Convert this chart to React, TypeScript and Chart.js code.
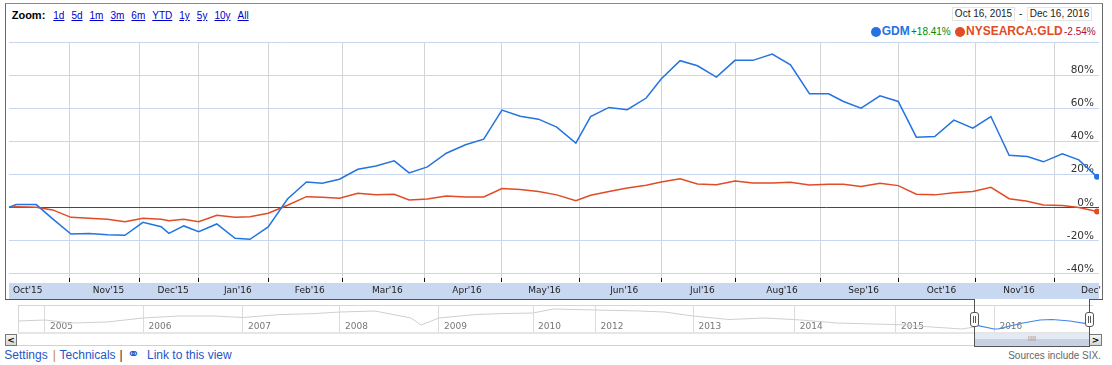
import React, { useEffect, useRef } from 'react';
import { Chart, registerables } from 'chart.js';

Chart.register(...registerables);

// ---------- main chart data (x in weeks since Oct 16, 2015; y in % change) ----------
const weekPos = [0, 0.41, 1.55, 2.49, 3.53, 4.57, 5.61, 6.61, 7.63, 8.67, 9.11, 9.96, 10.81, 11.84, 12.88, 13.73, 14.77, 15.87, 16.95, 17.85, 18.83, 19.88, 20.91, 21.95, 22.8, 23.84, 24.92, 26.01, 27.05, 28.09, 29.13, 30.17, 31.21, 32.3, 33.14, 34.19, 35.23, 36.31, 37.16, 38.24, 39.23, 40.31, 41.37, 42.39, 43.49, 44.53, 45.61, 46.7, 47.55, 48.55, 49.63, 50.67, 51.7, 52.75, 53.84, 54.92, 55.95, 56.99, 58.03, 58.94, 60.02, 60.96, 62.0];
const gdmPct = [0, 1.6, 1.6, -7, -16.2, -15.8, -16.6, -17.0, -9.1, -11.8, -15.8, -11.3, -14.8, -10.1, -18.8, -19.4, -11.9, 5.0, 15.3, 14.5, 17.0, 23.0, 25.0, 28.1, 20.8, 24.4, 32.7, 37.8, 41.2, 58.8, 55.1, 53.3, 48.5, 38.8, 54.9, 60.4, 59.0, 66.1, 77.6, 88.7, 85.6, 78.8, 88.9, 88.9, 92.7, 86.2, 68.7, 68.7, 64.0, 60.0, 67.4, 64.0, 42.4, 42.8, 52.7, 47.9, 54.9, 31.5, 30.7, 27.5, 32.3, 28.7, 18.41];
const gldPct = [0, 0.3, 0, -1.6, -6.1, -6.7, -7.3, -8.7, -6.7, -7.3, -8.1, -7.3, -8.7, -4.8, -6.1, -5.7, -3.6, 1.2, 6.4, 6.1, 5.5, 8.5, 7.5, 7.9, 4.4, 5.0, 6.8, 6.2, 6.2, 11.3, 10.7, 9.5, 7.5, 4.0, 7.3, 9.5, 11.7, 13.3, 15.3, 17.3, 14.1, 13.7, 15.9, 14.7, 14.7, 15.1, 13.5, 13.9, 13.9, 12.5, 14.5, 13.1, 7.9, 7.5, 8.8, 9.5, 12.1, 5.2, 3.6, 1.4, 1.0, -0.2, -2.54];

// month boundaries (same week units) and month tick labels
const monthStarts = [3.44, 7.44, 10.81, 14.81, 19.01, 23.65, 28.09, 32.49, 37.16, 41.41, 46.23, 50.71, 55.1, 59.55];
const monthLabels = ["Oct'15", "Nov'15", "Dec'15", "Jan'16", "Feb'16", "Mar'16", "Apr'16", "May'16", "Jun'16", "Jul'16", "Aug'16", "Sep'16", "Oct'16", "Nov'16", "Dec'16"];
const yTickValues = [-40, -20, 0, 20, 40, 60, 80, 100];
const X_MAX = 62.11;
const Y_MIN = -42.8;
const Y_MAX = 100;

// ---------- navigator data (x in percent of history width; y relative level) ----------
const navPos = [0, 2.51, 4.93, 8.28, 11.63, 14.98, 18.23, 20.93, 24.28, 27.53, 29.95, 33.21, 36.56, 37.49, 39.16, 42.51, 44.84, 47.91, 49.77, 53.72, 57.82, 60.16, 62.79, 66.14, 69.49, 72.84, 76.19, 79.5, 81.67, 84.47, 87.81, 88.93];
const navLevel = [12, 13, 10, 11, 15, 17, 17, 15.5, 18.4, 19.4, 21, 22, 15, 8, 15, 18.4, 19.4, 20, 24, 23, 22, 21, 17, 13.5, 15, 13, 10, 9, 8.5, 6.4, 4, 6];
const navSelPos = [89.3, 90.8, 91.16, 92.28, 93.49, 95.07, 96.19, 97.86, 99.53];
const navSelLevel = [7.4, 4, 4, 7, 10, 13, 13.5, 12, 9.2];
const navYearPos = [2.51, 11.68, 20.93, 29.95, 39.16, 47.91, 53.72, 62.83, 72.26, 81.67, 90.83];
const navYears = ['2005', '2006', '2007', '2008', '2009', '2010', '2012', '2013', '2014', '2015', '2016'];

const zoomLinks = ['1d', '5d', '1m', '3m', '6m', 'YTD', '1y', '5y', '10y', 'All'];

const BLUE = '#2473e0';
const RED = '#e14b25';

const bandPlugin = {
  id: 'axisBand',
  beforeDraw(chart: any) {
    const { ctx, chartArea, scales } = chart;
    const x = scales.x;
    ctx.save();
    ctx.fillStyle = '#c9d8f1';
    ctx.fillRect(chartArea.left, x.top + 5, chartArea.right - chartArea.left, x.bottom - x.top - 5);
    ctx.restore();
  },
};

const navLabelPlugin = {
  id: 'navLabels',
  beforeDatasetsDraw(chart: any) {
    const { ctx, scales, chartArea } = chart;
    const x = scales.x;
    ctx.save();
    ctx.font = '9px "DejaVu Sans"';
    ctx.fillStyle = '#777';
    ctx.textBaseline = 'alphabetic';
    ctx.textAlign = 'left';
    navYearPos.forEach((p, i) => {
      ctx.fillText(navYears[i], x.getPixelForValue(p) + 5, chartArea.bottom - 4);
    });
    ctx.restore();
  },
};

const abs = (s: React.CSSProperties): React.CSSProperties => ({ position: 'absolute', ...s });

export default function App() {
  const mainRef = useRef<HTMLCanvasElement>(null);
  const navRef = useRef<HTMLCanvasElement>(null);

  useEffect(() => {
    const gridSet = new Set(monthStarts);
    const labelMap = new Map<number, string>();
    monthLabels.forEach((m, i) => {
      const v = i === 0 ? 0 : i < monthStarts.length ? (monthStarts[i - 1] + monthStarts[i]) / 2 : monthStarts[i - 1] + 2.2;
      labelMap.set(v, m);
    });
    const xTickVals = [...monthStarts, ...Array.from(labelMap.keys()), X_MAX].sort((a, b) => a - b);
    const last = weekPos.length - 1;

    const main = new Chart(mainRef.current!, {
      type: 'line',
      data: {
        datasets: [
          {
            label: 'GDM',
            data: weekPos.map((x, i) => ({ x, y: gdmPct[i] })),
            borderColor: BLUE,
            backgroundColor: BLUE,
            borderWidth: 1.5,
            pointRadius: (c: any) => (c.dataIndex === last ? 3 : 0),
            pointBorderWidth: 0,
            pointHoverRadius: 0,
            tension: 0,
          },
          {
            label: 'NYSEARCA:GLD',
            data: weekPos.map((x, i) => ({ x, y: gldPct[i] })),
            borderColor: RED,
            backgroundColor: RED,
            borderWidth: 1.5,
            pointRadius: (c: any) => (c.dataIndex === last ? 3 : 0),
            pointBorderWidth: 0,
            pointHoverRadius: 0,
            tension: 0,
          },
        ],
      },
      options: {
        animation: false,
        responsive: false,
        events: [],
        layout: { padding: { top: 12, left: 0, right: 0, bottom: 0 } },
        plugins: { legend: { display: false }, tooltip: { enabled: false } },
        scales: {
          x: {
            type: 'linear',
            min: 0,
            max: X_MAX,
            afterBuildTicks: (s: any) => {
              s.ticks = xTickVals.map((v) => ({ value: v }));
            },
            grid: {
              color: (c: any) => (gridSet.has(c.tick?.value) ? '#d4d4d4' : 'rgba(0,0,0,0)'),
              tickColor: (c: any) => (gridSet.has(c.tick?.value) ? '#111' : 'rgba(0,0,0,0)'),
              tickLength: 4,
              drawTicks: true,
              lineWidth: 1,
            },
            border: { display: false },
            ticks: {
              autoSkip: false,
              maxRotation: 0,
              minRotation: 0,
              align: 'inner',
              padding: 0,
              labelOffset: 4,
              color: '#222',
              font: { family: 'DejaVu Sans', size: 9, lineHeight: 17 / 9 },
              callback: (v: any) => labelMap.get(v as number) ?? '',
            },
          },
          y: {
            type: 'linear',
            position: 'right',
            min: Y_MIN,
            max: Y_MAX,
            afterBuildTicks: (s: any) => {
              s.ticks = yTickValues.map((v) => ({ value: v }));
            },
            grid: {
              color: (c: any) => (c.tick?.value === 0 ? '#6b3b34' : '#c8d6ef'),
              drawTicks: false,
              lineWidth: 1,
            },
            border: { display: false },
            ticks: {
              mirror: true,
              padding: -5,
              labelOffset: -4.5,
              color: '#333',
              font: { family: 'DejaVu Sans', size: 10.5 },
              callback: (v: any) => (v === 100 ? '' : v + '%'),
            },
          },
        },
      },
      plugins: [bandPlugin],
    } as any);

    const nav = new Chart(navRef.current!, {
      type: 'line',
      data: {
        datasets: [
          {
            data: navSelPos.map((x, i) => ({ x, y: navSelLevel[i] })),
            borderColor: '#3f86e4',
            borderWidth: 1.2,
            pointRadius: 0,
            tension: 0,
          },
          {
            data: navPos.map((x, i) => ({ x, y: navLevel[i] })),
            borderColor: '#cfcfcf',
            borderWidth: 1,
            pointRadius: 0,
            tension: 0,
          },
        ],
      },
      options: {
        animation: false,
        responsive: false,
        events: [],
        layout: { padding: 0 },
        plugins: { legend: { display: false }, tooltip: { enabled: false } },
        scales: {
          x: {
            type: 'linear',
            min: 0,
            max: 100,
            afterBuildTicks: (s: any) => {
              s.ticks = navYearPos.map((v) => ({ value: v }));
            },
            grid: { color: '#dcdcdc', drawTicks: false, lineWidth: 1 },
            border: { display: false },
            ticks: { display: false },
          },
          y: { type: 'linear', display: false, min: 0, max: 28 },
        },
      },
      plugins: [navLabelPlugin],
    } as any);

    return () => {
      main.destroy();
      nav.destroy();
    };
  }, []);

  const sans = '"Liberation Sans", Arial, sans-serif';

  return (
    <div style={{ position: 'relative', width: 1112, height: 365, background: '#fff', overflow: 'hidden', fontFamily: sans }}>
      <style>{`body{margin:0;}`}</style>

      {/* main frame */}
      <div style={abs({ left: 5, top: 3, width: 1098, height: 297, boxSizing: 'border-box', borderTop: '1px solid #8a8a8a', borderLeft: '1px solid #6a6a6a', borderRight: '1px solid #6a6a6a' })} />
      <div style={abs({ left: 5, top: 299, width: 970, height: 1, background: '#555' })} />
      <div style={abs({ left: 1089, top: 299, width: 14, height: 1, background: '#555' })} />

      {/* header */}
      <div style={abs({ left: 11.7, top: 10.2, fontSize: 11, fontWeight: 'bold', lineHeight: '11px', color: '#000' })}>Zoom:</div>
      <div style={abs({ left: 53.3, top: 10.9, display: 'flex', gap: 7, fontSize: 10, lineHeight: '10px' })}>
        {zoomLinks.map((z) => (
          <span key={z} style={{ color: '#0000cc', textDecoration: 'underline' }}>{z}</span>
        ))}
      </div>
      <div style={abs({ left: 952, top: 7, width: 63, height: 14, boxSizing: 'border-box', border: '1px solid #e4e4e4', fontSize: 10, lineHeight: '12px', color: '#222', textAlign: 'center' })}>Oct 16, 2015</div>
      <div style={abs({ left: 1019, top: 8.5, fontSize: 10, lineHeight: '10px', color: '#222' })}>-</div>
      <div style={abs({ left: 1027, top: 7, width: 65, height: 14, boxSizing: 'border-box', border: '1px solid #e4e4e4', fontSize: 10, lineHeight: '12px', color: '#222', textAlign: 'center' })}>Dec 16, 2016</div>

      {/* legend */}
      <div style={abs({ left: 871, top: 26.7, width: 10, height: 10, borderRadius: '50%', background: BLUE })} />
      <div style={abs({ left: 881.7, top: 24.8, fontSize: 12, lineHeight: '12px', fontWeight: 'bold', color: BLUE })}>GDM</div>
      <div style={abs({ left: 911, top: 27.2, fontSize: 10, lineHeight: '10px', color: '#008a00' })}>+18.41%</div>
      <div style={abs({ left: 955, top: 26.7, width: 10, height: 10, borderRadius: '50%', background: RED })} />
      <div style={abs({ left: 966, top: 24.8, fontSize: 12, lineHeight: '12px', fontWeight: 'bold', color: RED })}>NYSEARCA:GLD</div>
      <div style={abs({ left: 1064, top: 27.2, fontSize: 10, lineHeight: '10px', color: '#b0103a' })}>-2.54%</div>

      {/* main chart */}
      <canvas ref={mainRef} width={1096} height={269} style={abs({ left: 6, top: 30, width: 1096, height: 269 })} />

      {/* navigator */}
      <canvas ref={navRef} width={1075} height={28} style={abs({ left: 18, top: 305, width: 1075, height: 28 })} />
      <div style={abs({ left: 18, top: 305, width: 1075, height: 1, background: '#d6d6d6' })} />
      <div style={abs({ left: 18, top: 305, width: 1, height: 28, background: '#d6d6d6' })} />
      <div style={abs({ left: 18, top: 332, width: 1071, height: 2, background: '#e6e6e6' })} />
      <div style={abs({ left: 17, top: 345, width: 1072, height: 1, background: '#d2d2d2' })} />

      {/* scroll buttons */}
      <div style={abs({ left: 5, top: 334, width: 12, height: 12, boxSizing: 'border-box', border: '1px solid #777', background: 'linear-gradient(#f6f6f6,#d6d6d6)', fontFamily: '"DejaVu Sans"', fontWeight: 'bold', fontSize: 9, lineHeight: '10px', textAlign: 'center', color: '#000' })}>&lt;</div>
      <div style={abs({ left: 1089, top: 334, width: 13, height: 12, boxSizing: 'border-box', border: '1px solid #777', background: 'linear-gradient(#f6f6f6,#d6d6d6)', fontFamily: '"DejaVu Sans"', fontWeight: 'bold', fontSize: 9, lineHeight: '10px', textAlign: 'center', color: '#000' })}>&gt;</div>

      {/* lens & thumb */}
      <div style={abs({ left: 975, top: 334, width: 114, height: 11, background: 'linear-gradient(#e4eaf4 0%, #e4eaf4 45%, #c7d1e4 46%, #c7d1e4 100%)', fontSize: 7, lineHeight: '11px', textAlign: 'center', color: '#8a94a8', fontFamily: '"DejaVu Sans"' })}>IIII</div>
      <div style={abs({ left: 974, top: 299, width: 116, height: 48, boxSizing: 'border-box', borderLeft: '1px solid #555', borderRight: '1px solid #555', borderBottom: '1px solid #555' })} />
      {[970, 1085].map((l) => (
        <div key={l} style={abs({ left: l, top: 312, width: 9, height: 15, boxSizing: 'border-box', border: '1px solid #555', borderRadius: 3, background: '#fff' })}>
          <div style={abs({ left: 2, top: 3, width: 1, height: 7, boxSizing: 'content-box', borderLeft: '1px solid #555', borderRight: '1px solid #555' })} />
        </div>
      ))}

      {/* footer */}
      <div style={abs({ left: 4.3, top: 349, fontSize: 12, lineHeight: '12px', color: '#1f56c8' })}>Settings</div>
      <div style={abs({ left: 52.8, top: 349, fontSize: 12, lineHeight: '12px', color: '#c98a1d' })}>|</div>
      <div style={abs({ left: 59.6, top: 349, fontSize: 12, lineHeight: '12px', color: '#1f56c8' })}>Technicals</div>
      <div style={abs({ left: 119.5, top: 349, fontSize: 12, lineHeight: '12px', color: '#222' })}>|</div>
      <div style={abs({ left: 127, top: 347, fontSize: 15, lineHeight: '15px', color: '#1f56c8', fontFamily: '"DejaVu Sans"' })}>⚭</div>
      <div style={abs({ left: 147, top: 349, fontSize: 12, lineHeight: '12px', color: '#1f56c8' })}>Link to this view</div>
      <div style={abs({ right: 11, top: 350.5, fontSize: 10, lineHeight: '10px', color: '#666' })}>Sources include SIX.</div>
    </div>
  );
}
